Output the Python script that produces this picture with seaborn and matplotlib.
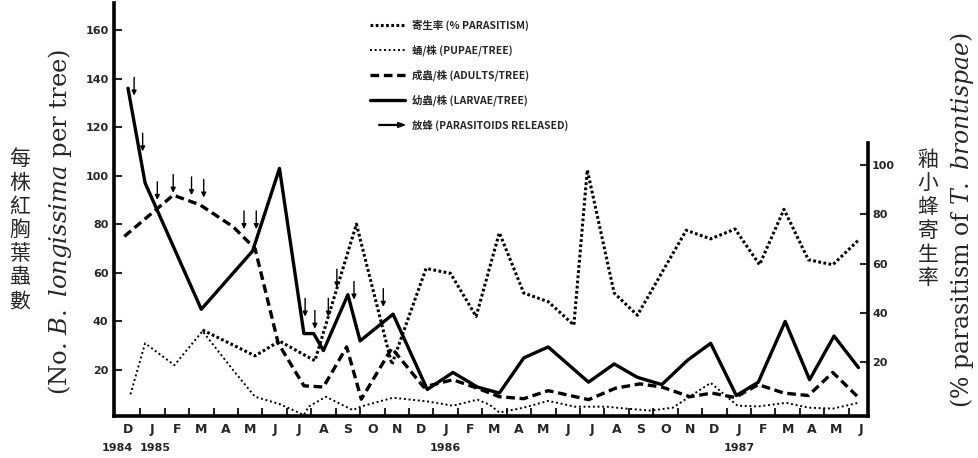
import pandas as pd
import matplotlib
matplotlib.use("Agg")
import matplotlib.pyplot as plt
import matplotlib.patches as mpatches
from matplotlib.legend_handler import HandlerPatch
import seaborn as sns

# Dados (x = meses desde dez/1984, 0 = D 1984)
meses = ["D", "J", "F", "M", "A", "M", "J", "J", "A", "S", "O", "N",
         "D", "J", "F", "M", "A", "M", "J", "J", "A", "S", "O", "N",
         "D", "J", "F", "M", "A", "M", "J"]
anos = ["1984", "1985", "1986", "1987"]
anos_pos = [-0.45, 1.1, 13.0, 25.0]

# larvas / árvore (eixo esquerdo)
larvas_x = [0.0, 0.7, 3.0, 5.1, 6.2, 7.2, 7.6, 8.0, 9.0, 9.5, 10.85, 12.25, 13.3,
            14.3, 15.2, 16.2, 17.2, 18.85, 19.9, 20.85, 21.85, 22.9, 23.85, 24.9,
            25.8, 26.9, 27.9, 28.9, 29.9]
larvas_y = [136, 97, 45, 69, 103, 35, 35, 28, 51, 32, 43, 12, 19,
            13, 10.5, 25, 29.5, 15, 22.5, 17, 14, 24, 31, 9.5,
            15, 40, 16, 34, 21]

# adultos / árvore (eixo esquerdo)
adultos_x = [-0.15, 1.85, 2.95, 4.3, 5.2, 6.15, 7.2, 8.0, 8.95, 9.55, 10.8, 12.1,
             13.3, 14.3, 15.2, 16.2, 17.2, 18.85, 19.95, 20.95, 21.85, 23.0, 23.9,
             24.85, 25.8, 26.85, 27.85, 28.85, 29.9]
adultos_y = [75, 92, 88, 79, 70, 31, 13.5, 13, 29.5, 8, 29, 13,
             16, 12.5, 9, 8.2, 11.5, 7.8, 12.5, 14.3, 13, 9, 10.5,
             8.7, 14, 10.5, 9.5, 19, 8.7]

# pupas / árvore (eixo esquerdo)
pupas_x = [0.1, 0.7, 1.9, 3.05, 4.3, 5.2, 6.2, 6.65, 7.2, 7.4, 8.1, 9.2, 9.55,
           10.85, 12.3, 13.3, 14.3, 14.8, 15.2, 16.2, 17.2, 18.3, 19.6, 20.4, 21.4,
           22.3, 23.85, 24.95, 25.8, 26.95, 27.85, 28.85, 29.9]
pupas_y = [10, 31, 22, 36, 20, 9, 6, 4, 1.5, 5, 9, 3.5, 5,
           8.6, 7, 5.3, 7.8, 5.7, 2.5, 4.5, 7.3, 4.9, 4.9, 4.1, 3.3,
           4.5, 14.7, 5.3, 5, 6.5, 4.5, 4.1, 6.5]

# % parasitismo (eixo direito)
parasit_x = [3.05, 5.2, 6.2, 7.65, 9.35, 10.8, 12.2, 13.2, 14.25, 15.2, 16.2, 17.2,
             18.25, 18.8, 19.9, 20.85, 22.85, 23.85, 24.85, 25.85, 26.85, 27.85,
             28.85, 29.9]
parasit_y = [33, 22.5, 28.5, 20.5, 76, 19, 58, 56, 38.5, 72.5, 48, 44.5,
             35, 98, 48, 39, 73.5, 70, 74, 59.5, 82, 61.5,
             59.5, 69.5]

# liberações de parasitoides (setas)
soltura_x = [0.25, 0.6, 1.2, 1.85, 2.6, 3.1, 4.75, 5.25, 7.25, 7.65, 8.2, 8.55, 9.25, 10.45]
soltura_y = [133, 110, 90, 93, 92, 91, 78, 78, 42, 37, 42, 54, 49, 46]

df_larvas = pd.DataFrame({"mes": larvas_x, "valor": larvas_y})
df_adultos = pd.DataFrame({"mes": adultos_x, "valor": adultos_y})
df_pupas = pd.DataFrame({"mes": pupas_x, "valor": pupas_y})
df_parasit = pd.DataFrame({"mes": parasit_x, "valor": parasit_y})

sns.set_style("white")
plt.rcParams["font.family"] = ["DejaVu Sans"]
plt.rcParams["mathtext.fontset"] = "dejavuserif"

fig = plt.figure(figsize=(9.79, 4.58), dpi=100)
ax = fig.add_axes([114 / 979, 42 / 458, 754 / 979, 413 / 458])
ax2 = ax.twinx()

sns.lineplot(data=df_pupas, x="mes", y="valor", ax=ax, color="black", lw=1.4,
             linestyle=(0, (1.0, 1.4)))
h_pupas = ax.lines[-1]
sns.lineplot(data=df_adultos, x="mes", y="valor", ax=ax, color="black", lw=2.4,
             linestyle=(0, (2.6, 1.4)))
h_adultos = ax.lines[-1]
sns.lineplot(data=df_larvas, x="mes", y="valor", ax=ax, color="black", lw=2.4)
h_larvas = ax.lines[-1]
sns.lineplot(data=df_parasit, x="mes", y="valor", ax=ax2, color="black", lw=2.2,
             linestyle=(0, (0.9, 0.8)))
h_parasit = ax2.lines[-1]

for xs, ys in zip(soltura_x, soltura_y):
    ax.annotate("", xy=(xs, ys), xytext=(xs, ys + 7.5),
                arrowprops=dict(arrowstyle="-|>", color="black", lw=1.0,
                                mutation_scale=7, shrinkA=0, shrinkB=0))

# eixos
ax.set_xlim(-0.573, 30.29)
ax.set_ylim(1.07, 171.1)
ax2.set_ylim(-1.93, 165.8)

ax.set_xticks(range(len(meses)))
ax.set_xticklabels(meses, fontsize=9, fontweight="bold")
ax.set_xticks([k + 0.5 for k in range(30)], minor=True)
ax.tick_params(axis="x", which="major", length=0, pad=5)
ax.tick_params(axis="x", which="minor", direction="in", length=6, width=1.5,
               bottom=True)

ax.set_yticks(range(20, 161, 20))
ax.set_yticklabels([str(v) for v in range(20, 161, 20)], fontsize=8, fontweight="bold")
ax.tick_params(axis="y", direction="in", length=6, width=1.5, pad=4, left=True)

ax2.set_yticks(range(20, 101, 20))
ax2.set_yticklabels([str(v) for v in range(20, 101, 20)], fontsize=8, fontweight="bold")
ax2.tick_params(axis="y", direction="in", length=6, width=1.5, pad=3, right=True)

for a in (ax, ax2):
    a.set_xlabel("")
    a.set_ylabel("")
    a.grid(False)
    for s in a.spines.values():
        s.set_linewidth(2.6)
        s.set_color("black")
ax.spines["top"].set_visible(False)
ax.spines["right"].set_visible(False)
for nome in ("top", "left", "bottom"):
    ax2.spines[nome].set_visible(False)
ax2.spines["right"].set_bounds(-1.93, 109)

for texto, pos in zip(anos, anos_pos):
    ax.text(pos, -0.0775, texto, transform=ax.get_xaxis_transform(),
            ha="center", va="center", fontsize=8, fontweight="bold")

# rótulos dos eixos
fig.text(20 / 979, 1 - 230 / 458, "\n".join("每株紅胸葉蟲數"), ha="center", va="center",
         fontsize=15, family=["Noto Sans CJK TC"], linespacing=1.1)
fig.text(60 / 979, 1 - 222 / 458, r"(No. $\mathit{B.\ longissima}$ per tree)",
         rotation=90, ha="center", va="center", fontsize=17.5, family=["DejaVu Serif"])
fig.text(928 / 979, 1 - 219 / 458, "\n".join("釉小蜂寄生率"), ha="center", va="center",
         fontsize=15, family=["Noto Sans CJK TC"], linespacing=1.1)
fig.text(962 / 979, 1 - 220 / 458, r"(% parasitism of $\mathit{T.\ brontispae}$)",
         rotation=90, ha="center", va="center", fontsize=17, family=["DejaVu Serif"])


# legenda com seta
class HandlerSeta(HandlerPatch):
    def create_artists(self, legend, orig_handle, xdescent, ydescent, width, height,
                       fontsize, trans):
        seta = mpatches.FancyArrow(-xdescent + 0.25 * width, -ydescent + height / 2,
                                   0.75 * width, 0, width=0.6, head_width=3.5,
                                   head_length=5, length_includes_head=True,
                                   color="black")
        seta.set_transform(trans)
        return [seta]


h_soltura = mpatches.Patch(color="black")
rotulos = ["寄生率 (% PARASITISM)", "蛹/株 (PUPAE/TREE)", "成蟲/株 (ADULTS/TREE)",
           "幼蟲/株 (LARVAE/TREE)", "放蜂 (PARASITOIDS RELEASED)"]
leg = ax2.legend([h_parasit, h_pupas, h_adultos, h_larvas, h_soltura], rotulos,
                 handler_map={h_soltura: HandlerSeta()},
                 loc="upper left", bbox_to_anchor=(365 / 979, 1 - 14 / 458),
                 bbox_transform=fig.transFigure, frameon=False, borderpad=0,
                 handlelength=3.3, handletextpad=0.7, labelspacing=1.3,
                 prop={"family": ["Noto Sans CJK TC", "DejaVu Sans"],
                       "weight": "bold", "size": 7.5})

fig.savefig("out.png", dpi=100)
